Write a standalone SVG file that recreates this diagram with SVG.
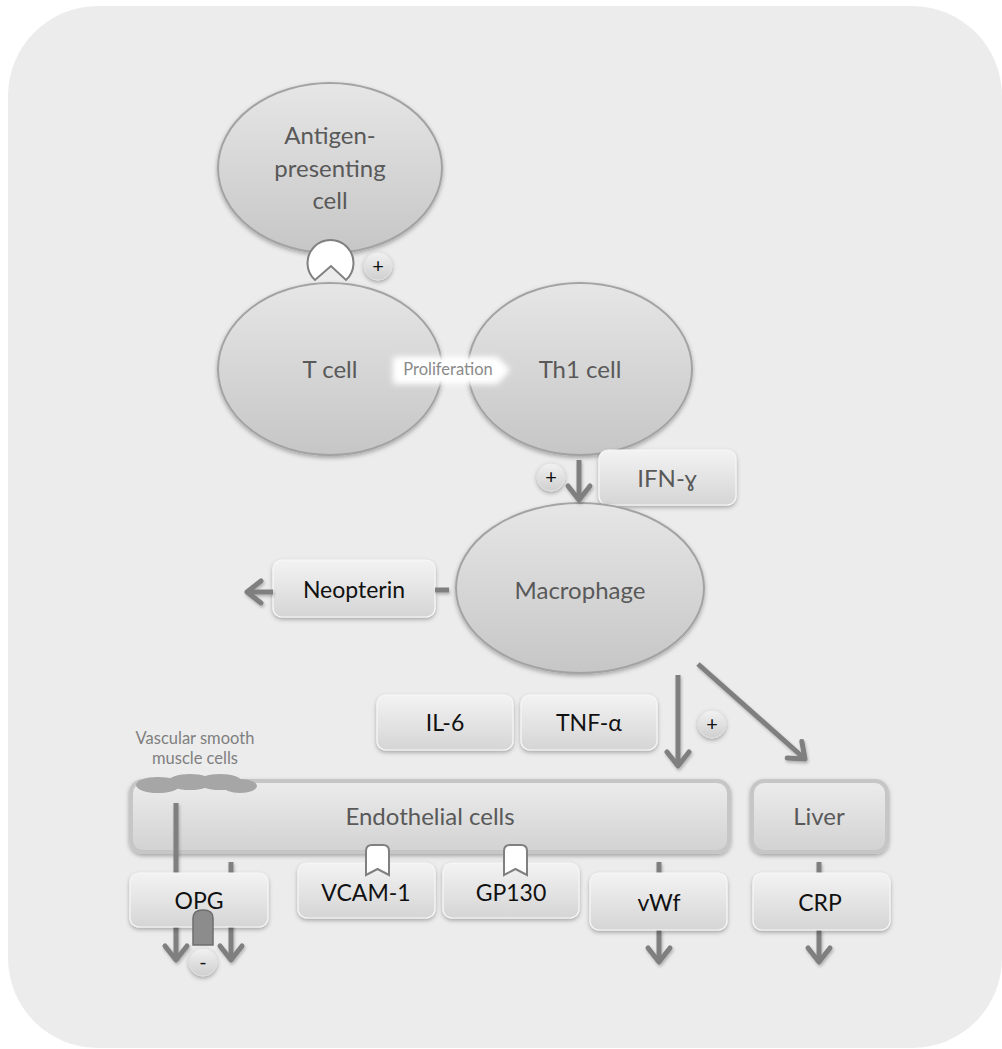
<svg xmlns="http://www.w3.org/2000/svg" width="1002" height="1049" viewBox="0 0 1002 1049">
<style>
  text { font-family: Lato, "Liberation Sans", sans-serif; text-anchor: middle; dominant-baseline: central; }
  .cell { fill: url(#gCell); stroke: #a3a3a3; stroke-width: 2; filter: url(#sh); }
  .box { fill: url(#gBox); stroke: #f7f7f7; stroke-width: 1.2; filter: url(#sh); }
  .big { fill: url(#gBig); stroke: #c6c6c6; stroke-width: 4; filter: url(#sh); }
  .tg { fill: #595959; font-size: 24px; }
  .tb { fill: #111111; font-size: 23px; }
  .arr { stroke: #7f7f7f; stroke-width: 5; fill: none; }
  .stub { stroke: #7f7f7f; stroke-width: 5; fill: none; }
  .plus { fill: url(#gPlus); stroke: #e0e0e0; stroke-width: 1; filter: url(#sh); }
  .pt { fill: #111; font-size: 20px; }
  .rec { fill: #ffffff; stroke: #808080; stroke-width: 2; }
</style>
<defs>
  <linearGradient id="gCell" x1="0" y1="0" x2="0" y2="1">
    <stop offset="0" stop-color="#e6e6e6"/>
    <stop offset="1" stop-color="#c6c6c6"/>
  </linearGradient>
  <linearGradient id="gBox" x1="0" y1="0" x2="0" y2="1">
    <stop offset="0" stop-color="#f3f3f3"/>
    <stop offset="1" stop-color="#d5d5d5"/>
  </linearGradient>
  <linearGradient id="gBig" x1="0" y1="0" x2="0" y2="1">
    <stop offset="0" stop-color="#ececec"/>
    <stop offset="1" stop-color="#d2d2d2"/>
  </linearGradient>
  <linearGradient id="gPlus" x1="0" y1="0" x2="0" y2="1">
    <stop offset="0" stop-color="#f2f2f2"/>
    <stop offset="1" stop-color="#cfcfcf"/>
  </linearGradient>
  <filter id="sh" x="-20%" y="-20%" width="140%" height="150%">
    <feDropShadow dx="0" dy="2" stdDeviation="2" flood-color="#000" flood-opacity="0.3"/>
  </filter>
  <filter id="shs" filterUnits="userSpaceOnUse" x="0" y="0" width="1002" height="1049">
    <feDropShadow dx="1" dy="2" stdDeviation="1.5" flood-color="#000" flood-opacity="0.25"/>
  </filter>
  <filter id="glow" x="-20%" y="-50%" width="140%" height="200%">
    <feGaussianBlur stdDeviation="3"/>
  </filter>
  <marker id="ah" viewBox="-20 -16 24 32" refX="0" refY="0" markerWidth="24" markerHeight="32" orient="auto" markerUnits="userSpaceOnUse">
    <path d="M-14,-11 L0,0 L-14,11" fill="none" stroke="#7f7f7f" stroke-width="5" stroke-linecap="round" stroke-linejoin="round"/>
  </marker>
</defs>

<rect x="0" y="0" width="1002" height="1049" fill="#ffffff"/>
<rect x="8" y="6" width="994" height="1042" rx="90" ry="90" fill="#ececec"/>

<g id="apc">
  <ellipse class="cell" cx="330" cy="168" rx="112" ry="85"/>
  <text class="tg" x="330" y="134">Antigen-</text>
  <text class="tg" x="330" y="167">presenting</text>
  <text class="tg" x="330" y="199">cell</text>
</g>

<g id="tcell">
  <ellipse class="cell" cx="330" cy="369" rx="112" ry="86"/>
  <text class="tg" x="330" y="368">T cell</text>
</g>

<g id="th1">
  <ellipse class="cell" cx="580" cy="369" rx="112" ry="86"/>
  <text class="tg" x="580" y="368">Th1 cell</text>
</g>

<g id="apc-receptor">
  <path class="rec" d="M315,280 A23,23 0 1,1 346,280 L331,266 Z"/>
</g>

<g id="plus1">
  <circle class="plus" cx="378" cy="266" r="14"/>
  <text class="pt" x="378" y="265">+</text>
</g>

<g id="proliferation">
  <path d="M393,357 L497,357 L510,370 L497,384 L393,384 Z" fill="#ffffff" filter="url(#glow)"/>
  <path d="M397,360 L496,360 L506,370 L496,380 L397,380 Z" fill="#ffffff" opacity="0.8" filter="url(#glow)"/>
  <text x="448" y="369" fill="#8a8a8a" font-size="16.5">Proliferation</text>
</g>

<g id="ifn">
  <rect class="box" x="599" y="450" width="137" height="55" rx="9"/>
  <text class="tg" x="667" y="477">IFN-ɣ</text>
</g>

<g id="plus2">
  <circle class="plus" cx="551" cy="477" r="14"/>
  <text class="pt" x="551" y="476">+</text>
</g>

<g id="macrophage">
  <ellipse class="cell" cx="580" cy="588" rx="124" ry="85"/>
  <text class="tg" x="580" y="589">Macrophage</text>
</g>

<g id="neopterin">
  <rect class="box" x="273" y="560" width="162" height="57" rx="9"/>
  <text class="tb" x="354" y="589">Neopterin</text>
</g>

<g id="il6">
  <rect class="box" x="377" y="695" width="136" height="55" rx="9"/>
  <text class="tb" x="445" y="722">IL-6</text>
</g>

<g id="tnf">
  <rect class="box" x="521" y="695" width="136" height="55" rx="9"/>
  <text class="tb" x="589" y="722">TNF-α</text>
</g>

<g id="plus3">
  <circle class="plus" cx="712" cy="724" r="14"/>
  <text class="pt" x="712" y="723">+</text>
</g>

<g id="vsmc-label">
  <text x="195" y="738" fill="#7f7f7f" font-size="16.5">Vascular smooth</text>
  <text x="195" y="758" fill="#7f7f7f" font-size="16.5">muscle cells</text>
</g>

<g id="endothelial">
  <rect class="big" x="131" y="781" width="598" height="71" rx="12"/>
  <text class="tg" x="430" y="815" font-size="23">Endothelial cells</text>
</g>

<g id="vsmc">
  <ellipse cx="158" cy="785" rx="22" ry="8" fill="#a6a6a6"/>
  <ellipse cx="190" cy="782" rx="22" ry="8" fill="#a6a6a6"/>
  <ellipse cx="220" cy="782" rx="22" ry="8" fill="#a6a6a6"/>
  <ellipse cx="240" cy="786" rx="17" ry="7" fill="#a6a6a6"/>
</g>

<g id="liver">
  <rect class="big" x="752" y="781" width="135" height="71" rx="12"/>
  <text class="tg" x="819" y="815" font-size="23">Liver</text>
</g>

<!-- connectors -->
<g id="connectors" filter="url(#shs)">
  <line class="arr" x1="579" y1="460" x2="579" y2="500" marker-end="url(#ah)"/>
  <line class="stub" x1="435" y1="590" x2="449" y2="590"/>
  <line class="arr" x1="273" y1="592" x2="247" y2="592" marker-end="url(#ah)"/>
  <line class="arr" x1="678" y1="675" x2="678" y2="766" marker-end="url(#ah)"/>
  <line class="arr" x1="698" y1="664" x2="805" y2="759" marker-end="url(#ah)"/>
  <line class="arr" x1="176" y1="803" x2="176" y2="960" marker-end="url(#ah)"/>
  <line class="arr" x1="231" y1="862" x2="231" y2="960" marker-end="url(#ah)"/>
  <line class="stub" x1="659" y1="862" x2="659" y2="875"/>
  <line class="arr" x1="659" y1="930" x2="659" y2="962" marker-end="url(#ah)"/>
  <line class="stub" x1="819" y1="862" x2="819" y2="875"/>
  <line class="arr" x1="819" y1="930" x2="819" y2="962" marker-end="url(#ah)"/>
</g>

<g id="opg">
  <rect class="box" x="130" y="873" width="138" height="54" rx="9"/>
  <text class="tb" x="199" y="900">OPG</text>
</g>

<g id="vcam">
  <rect class="box" x="298" y="863" width="137" height="55" rx="9"/>
  <text class="tb" x="366" y="892">VCAM-1</text>
  <path class="rec" d="M366,875 L366,851 Q366,845 372,845 L383,845 Q389,845 389,851 L389,875 L377.5,869 Z"/>
</g>

<g id="gp130">
  <rect class="box" x="443" y="863" width="136" height="55" rx="9"/>
  <text class="tb" x="511" y="892">GP130</text>
  <path class="rec" d="M504,875 L504,851 Q504,845 510,845 L521,845 Q527,845 527,851 L527,875 L515.5,869 Z"/>
</g>

<g id="vwf">
  <rect class="box" x="590" y="873" width="137" height="57" rx="9"/>
  <text class="tb" x="659" y="902">vWf</text>
</g>

<g id="crp">
  <rect class="box" x="753" y="873" width="137" height="57" rx="9"/>
  <text class="tb" x="820" y="902">CRP</text>
</g>

<g id="inhibitor">
  <path d="M193,945 L193,918 Q193,910 203,910 Q213,910 213,918 L213,945 Z" fill="#8c8c8c" stroke="#6e6e6e" stroke-width="1.5"/>
  <circle class="plus" cx="203" cy="962" r="14"/>
  <text class="pt" x="203" y="961">-</text>
</g>
</svg>
